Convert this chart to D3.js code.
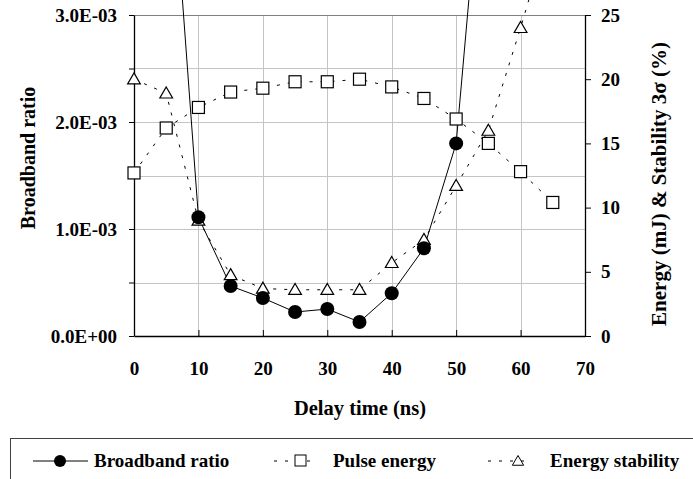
<!DOCTYPE html>
<html>
<head>
<meta charset="utf-8">
<script src="https://cdn.jsdelivr.net/npm/d3@7"></script>
<style>
  body { margin: 0; background: #fff; }
  svg { display: block; font-family: "Liberation Serif", "DejaVu Serif", serif; font-weight: bold; }
</style>
</head>
<body>
<svg id="chart" width="693" height="479"></svg>
<script>
// delay times (ns)
var delayBroadband = [5, 10, 15, 20, 25, 30, 35, 40, 45, 50, 55];
var broadbandRatio = [5.2e-3, 1.11e-3, 0.467e-3, 0.355e-3, 0.224e-3, 0.252e-3, 0.131e-3, 0.40e-3, 0.82e-3, 1.80e-3, 5.2e-3];

var delayEnergy = [0, 5, 10, 15, 20, 25, 30, 35, 40, 45, 50, 55, 60, 65];
var pulseEnergy = [12.7, 16.2, 17.8, 19.0, 19.3, 19.8, 19.8, 20.0, 19.4, 18.5, 16.9, 15.0, 12.8, 10.4];

var delayStability = [0, 5, 10, 15, 20, 25, 30, 35, 40, 45, 50, 55, 60, 65];
var energyStability = [20.0, 18.9, 9.0, 4.75, 3.7, 3.6, 3.6, 3.6, 5.7, 7.5, 11.7, 16.0, 24.0, 32.5];

var xTicks = [0, 10, 20, 30, 40, 50, 60, 70];
var leftTicks = [0, 0.5e-3, 1.0e-3, 1.5e-3, 2.0e-3, 2.5e-3, 3.0e-3];
var leftLabels = ["0.0E+00", "", "1.0E-03", "", "2.0E-03", "", "3.0E-03"];
var rightTicks = [0, 5, 10, 15, 20, 25];

var legendNames = ["Broadband ratio", "Pulse energy", "Energy stability"];

var svg = d3.select("#chart");
var plotL = 134, plotR = 585, plotT = 15, plotB = 336;

var x = d3.scaleLinear().domain([0, 70]).range([plotL, plotR]);
var yL = d3.scaleLinear().domain([0, 3.0e-3]).range([plotB, plotT]);
var yR = d3.scaleLinear().domain([0, 25]).range([plotB, plotT]);

// grid
svg.append("g").selectAll("line")
  .data(leftTicks.slice(1, -1))
  .enter().append("line")
  .attr("x1", plotL).attr("x2", plotR)
  .attr("y1", function (d) { return Math.round(yL(d)) + 0.5; })
  .attr("y2", function (d) { return Math.round(yL(d)) + 0.5; })
  .style("stroke", "#c4c4c4");

svg.append("g").selectAll("line")
  .data(xTicks.slice(1, -1))
  .enter().append("line")
  .attr("x1", function (d) { return Math.round(x(d)) + 0.5; })
  .attr("x2", function (d) { return Math.round(x(d)) + 0.5; })
  .attr("y1", plotT).attr("y2", plotB)
  .style("stroke", "#c4c4c4");

// top border
svg.append("line")
  .attr("x1", plotL).attr("x2", plotR)
  .attr("y1", plotT + 0.5).attr("y2", plotT + 0.5)
  .style("stroke", "#808080");

// axes
var xAxis = d3.axisBottom(x).tickValues(xTicks).tickSizeInner(-6).tickSizeOuter(0).tickPadding(26);
var gx = svg.append("g").attr("transform", "translate(0," + plotB + ")").call(xAxis);

var yAxisL = d3.axisLeft(yL).tickValues(leftTicks).tickSizeInner(5).tickSizeOuter(0)
  .tickFormat(function (d, i) { return leftLabels[i]; }).tickPadding(12);
var gyL = svg.append("g").attr("transform", "translate(" + plotL + ",0)").call(yAxisL);

var yAxisR = d3.axisRight(yR).tickValues(rightTicks).tickSizeInner(6).tickSizeOuter(0).tickPadding(10);
var gyR = svg.append("g").attr("transform", "translate(" + plotR + ",0)").call(yAxisR);

[gx, gyL, gyR].forEach(function (g) {
  g.selectAll("text").style("font-size", "19px").style("font-family", "Liberation Serif").style("font-weight", "bold").attr("fill", "#000");
  g.select(".domain").style("stroke", "#000").style("stroke-width", 1.3);
  g.selectAll(".tick line").style("stroke", "#000");
});

// titles
svg.append("text")
  .attr("x", 360).attr("y", 415)
  .attr("text-anchor", "middle")
  .style("font-size", "20.5px")
  .text("Delay time (ns)");

svg.append("text")
  .attr("transform", "translate(35,158)rotate(-90)")
  .attr("text-anchor", "middle")
  .style("font-size", "20px")
  .text("Broadband ratio");

svg.append("text")
  .attr("transform", "translate(666,184)rotate(-90)")
  .attr("text-anchor", "middle")
  .style("font-size", "21px")
  .text("Energy (mJ) & Stability 3σ (%)");

// series lines
var lineB = d3.line().x(function (d) { return x(d[0]); }).y(function (d) { return yL(d[1]); });
var lineR = d3.line().x(function (d) { return x(d[0]); }).y(function (d) { return yR(d[1]); });

var dataB = delayBroadband.map(function (t, i) { return [t, broadbandRatio[i]]; });
var dataE = delayEnergy.map(function (t, i) { return [t, pulseEnergy[i]]; });
var dataS = delayStability.map(function (t, i) { return [t, energyStability[i]]; });

svg.append("path").attr("d", lineR(dataE))
  .style("fill", "none").style("stroke", "#000").style("stroke-width", 1)
  .style("stroke-dasharray", "3,8");
svg.append("path").attr("d", lineR(dataS))
  .style("fill", "none").style("stroke", "#000").style("stroke-width", 1)
  .style("stroke-dasharray", "3,8");
svg.append("path").attr("d", lineB(dataB))
  .style("fill", "none").style("stroke", "#000").style("stroke-width", 1);

// markers
var tri = d3.symbol().type(d3.symbolTriangle).size(70);

svg.append("g").selectAll("rect")
  .data(dataE)
  .enter().append("rect")
  .attr("x", function (d) { return x(d[0]) - 6; })
  .attr("y", function (d) { return yR(d[1]) - 6; })
  .attr("width", 12).attr("height", 12)
  .style("fill", "#fff").style("stroke", "#000").style("stroke-width", 1.2);

svg.append("g").selectAll("path")
  .data(dataS)
  .enter().append("path")
  .attr("d", tri)
  .attr("transform", function (d) { return "translate(" + x(d[0]) + "," + (yR(d[1]) + 1) + ")"; })
  .style("fill", "#fff").style("stroke", "#000").style("stroke-width", 1.2);

svg.append("g").selectAll("circle")
  .data(dataB)
  .enter().append("circle")
  .attr("cx", function (d) { return x(d[0]); })
  .attr("cy", function (d) { return yL(d[1]); })
  .attr("r", 7)
  .style("fill", "#000");

// legend
svg.append("rect")
  .attr("x", 10.5).attr("y", 438.5).attr("width", 700).attr("height", 60)
  .style("fill", "#fff").style("stroke", "#404040");

var lg = svg.append("g");
// broadband
lg.append("line").attr("x1", 33).attr("x2", 88).attr("y1", 461).attr("y2", 461).style("stroke", "#000");
lg.append("circle").attr("cx", 60).attr("cy", 461).attr("r", 6).style("fill", "#000");
// pulse energy
lg.append("line").attr("x1", 274).attr("x2", 318).attr("y1", 461).attr("y2", 461)
  .style("stroke", "#000").style("stroke-dasharray", "3,8");
lg.append("rect").attr("x", 295).attr("y", 455).attr("width", 11).attr("height", 11)
  .style("fill", "#fff").style("stroke", "#000");
// stability
lg.append("line").attr("x1", 488).attr("x2", 530).attr("y1", 461).attr("y2", 461)
  .style("stroke", "#000").style("stroke-dasharray", "3,8");
lg.append("path").attr("d", d3.symbol().type(d3.symbolTriangle).size(55))
  .attr("transform", "translate(518,462)")
  .style("fill", "#fff").style("stroke", "#000");

var legendX = [94, 333, 550];
lg.selectAll("text.leg")
  .data(legendNames)
  .enter().append("text")
  .attr("class", "leg")
  .attr("x", function (d, i) { return legendX[i]; })
  .attr("y", 467)
  .style("font-size", "19px")
  .text(function (d) { return d; });
</script>
</body>
</html>
